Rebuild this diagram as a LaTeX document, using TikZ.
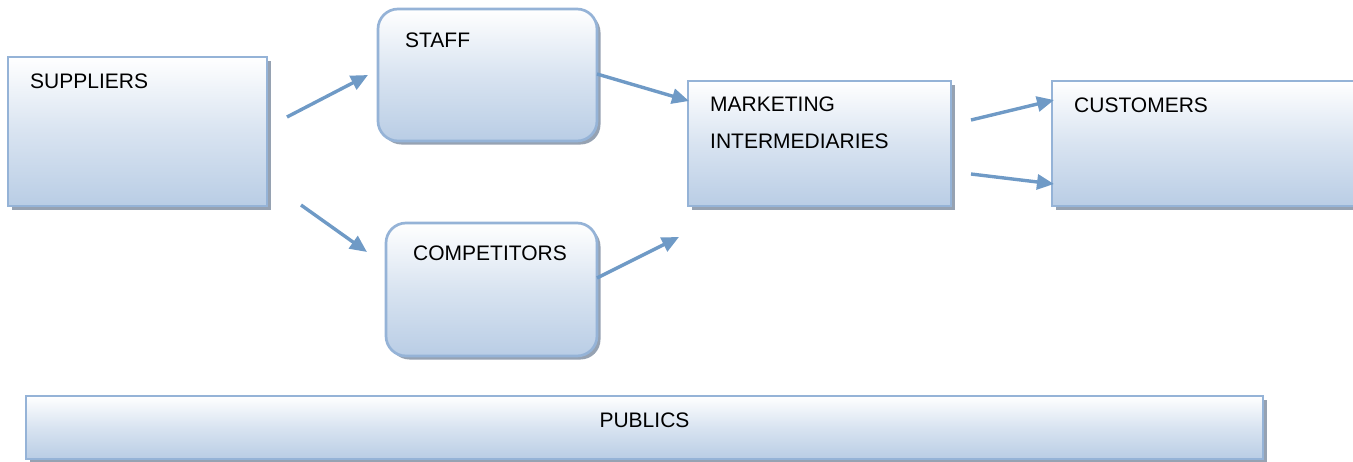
\documentclass[tikz,border=0pt]{standalone}
\usepackage{fontspec}
\setmainfont{Liberation Sans}
\usetikzlibrary{arrows.meta,shadows}
\definecolor{bordc}{RGB}{149,179,215}
\definecolor{fillb}{RGB}{185,205,229}
\definecolor{arrc}{RGB}{111,154,198}
\definecolor{shadc}{RGB}{150,162,178}
\tikzset{
  box/.style={draw=bordc, line width=2.7pt, top color=white, bottom color=fillb, middle color=fillb!55,
    inner sep=0pt, general shadow={fill=shadc, shadow xshift=3.5pt, shadow yshift=-3.5pt}},
  rbox/.style={box, rounded corners=20pt},
  lbl/.style={anchor=base west, font=\fontsize{21}{24}\selectfont, inner sep=0pt, text=black},
  arr/.style={draw=arrc, line width=3.4pt, -{Triangle[length=17pt,width=15pt]}, shorten >=0pt}
}
\begin{document}
\begin{tikzpicture}[x=1pt,y=-1pt]
\useasboundingbox (0,0) rectangle (1353,461);
\node[box, minimum width=259pt, minimum height=149pt] (sup) at (137.5,131.5) {};
\node[rbox, minimum width=219pt, minimum height=132pt] (staff) at (487.5,75) {};
\node[rbox, minimum width=211pt, minimum height=133pt] (comp) at (491.5,289.5) {};
\node[box, minimum width=263pt, minimum height=125pt] (mi) at (819.5,143.5) {};
\node[box, minimum width=318pt, minimum height=125pt] (cust) at (1211,143.5) {};
\node[box, minimum width=1237pt, minimum height=63pt] (pub) at (644.5,427.5) {};

\node[lbl] (tsup) at (30,88.5) {SUPPLIERS};
\node[lbl] (tstaff) at (405,47) {STAFF};
\node[lbl] (tcomp) at (413,260) {COMPETITORS};
\node[lbl] (tmi1) at (710,111) {MARKETING};
\node[lbl] (tmi2) at (710,148) {INTERMEDIARIES};
\node[lbl] (tcust) at (1074,112) {CUSTOMERS};
\node[lbl, anchor=base] (tpub) at (644.5,427) {PUBLICS};

\coordinate (a1s) at (287,117); \coordinate (a1e) at (368,75);
\coordinate (a2s) at (301,205); \coordinate (a2e) at (367,252);
\coordinate (a3s) at (597,74);  \coordinate (a3e) at (689,101);
\coordinate (a4s) at (597,278); \coordinate (a4e) at (679,237);
\coordinate (a5s) at (971,120); \coordinate (a5e) at (1054,100);
\coordinate (a6s) at (971,174); \coordinate (a6e) at (1054,184);
\draw[arr] (a1s) -- (a1e);
\draw[arr] (a2s) -- (a2e);
\draw[arr] (a3s) -- (a3e);
\draw[arr] (a4s) -- (a4e);
\draw[arr] (a5s) -- (a5e);
\draw[arr] (a6s) -- (a6e);
\end{tikzpicture}
\end{document}
